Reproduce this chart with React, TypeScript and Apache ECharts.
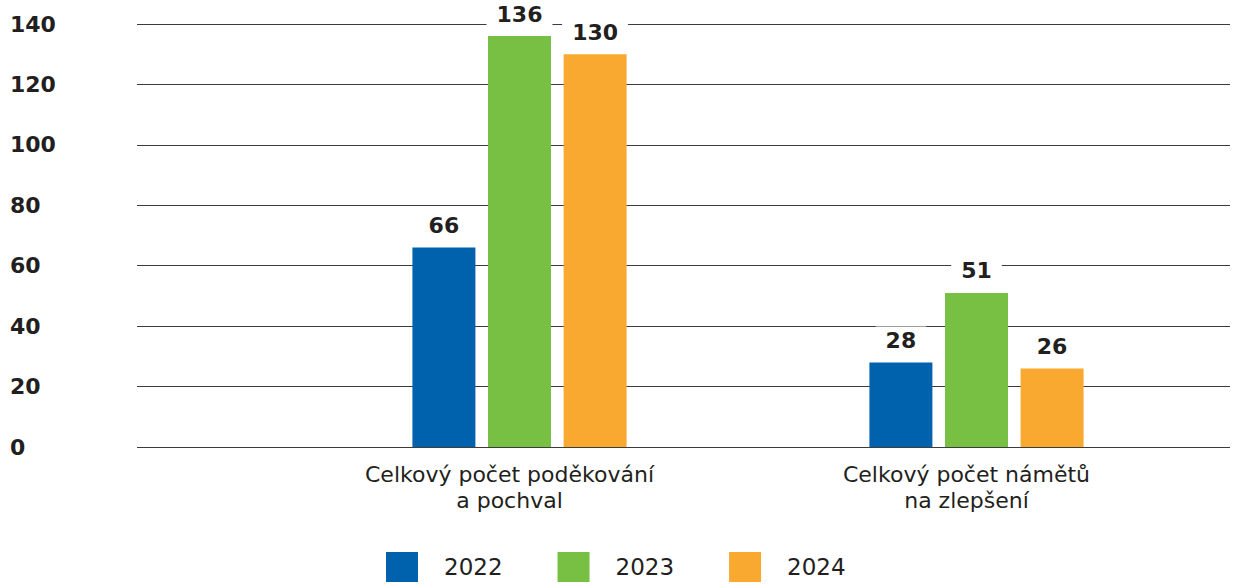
import React, { useEffect, useRef } from "react";
import * as echarts from "echarts";

const categories = ["Celkový počet poděkování\na pochval", "Celkový počet námětů\nna zlepšení"];
const seriesNames = ["2022", "2023", "2024"];
const values2022 = [66, 28];
const values2023 = [136, 51];
const values2024 = [130, 26];
const colors = ["#0061ad", "#77c043", "#f9a930"];
const yTicks = { min: 0, max: 140, interval: 20 };

const FONT = "DejaVu Sans";
const TEXT = "#231f20";

export default function App() {
  const ref = useRef<HTMLDivElement>(null);
  useEffect(() => {
    document.body.style.margin = "0";
    const chart = echarts.init(ref.current!, null, { renderer: "svg" });
    const data = [values2022, values2023, values2024];
    chart.setOption({
      animation: false,
      backgroundColor: "#ffffff",
      grid: [
        { left: 137, right: 10, top: 24, bottom: 137 },
        { left: 291, right: 35, top: 24, bottom: 137 },
      ],
      xAxis: [
        {
          type: "category",
          gridIndex: 0,
          data: categories,
          show: false,
        },
        {
          type: "category",
          gridIndex: 1,
          data: categories,
          axisLine: { show: false },
          axisTick: { show: false },
          axisLabel: {
            fontFamily: FONT,
            fontSize: 22,
            color: TEXT,
            lineHeight: 26,
            margin: 14,
            padding: [0, 20, 0, 0],
          },
        },
      ],
      yAxis: [
        {
          type: "value",
          gridIndex: 0,
          min: yTicks.min,
          max: yTicks.max,
          interval: yTicks.interval,
          axisLine: { show: false },
          axisTick: { show: false },
          splitLine: { lineStyle: { color: "#3c3c3c", width: 1 } },
          axisLabel: {
            align: "left",
            margin: 127,
            fontFamily: FONT,
            fontWeight: "bold",
            fontSize: 22,
            color: TEXT,
          },
        },
        {
          type: "value",
          gridIndex: 1,
          min: yTicks.min,
          max: yTicks.max,
          interval: yTicks.interval,
          show: false,
          splitLine: { show: false },
        },
      ],
      legend: {
        left: 386,
        top: 552,
        padding: 0,
        itemWidth: 32,
        itemHeight: 30,
        itemGap: 55,
        icon: "rect",
        textStyle: {
          fontFamily: FONT,
          fontSize: 23,
          lineHeight: 24,
          color: TEXT,
          padding: [3, 0, 0, 21],
        },
        data: seriesNames,
      },
      series: seriesNames.map((name, i) => ({
        name,
        type: "bar",
        xAxisIndex: 1,
        yAxisIndex: 1,
        data: data[i],
        barWidth: 63,
        barGap: "20%",
        itemStyle: { color: colors[i] },
        label: {
          show: true,
          position: "top",
          distance: 8,
          fontFamily: FONT,
          fontWeight: "bold",
          fontSize: 22,
          color: TEXT,
          backgroundColor: "#ffffff",
          padding: [3, 10],
        },
      })),
    });
    return () => chart.dispose();
  }, []);
  return <div ref={ref} style={{ width: 1240, height: 584 }} />;
}
